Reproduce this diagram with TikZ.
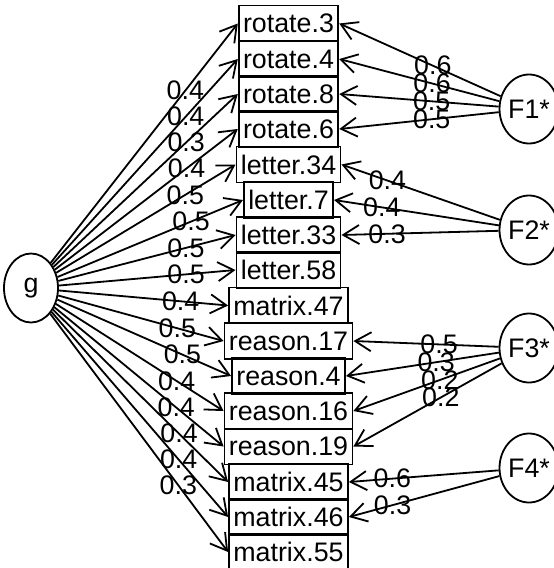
\documentclass[tikz,border=0pt]{standalone}
\usepackage{fontspec}
\setmainfont{Liberation Sans}
\usetikzlibrary{shapes.geometric, arrows.meta}
\tikzset{
  omega/.style = {
    x=0.5pt, y=-0.5pt,
    font=\fontsize{13.4}{16}\selectfont,
    line width=0.9pt,
  },
  obs/.style = {
    rectangle, draw, minimum height=18pt, inner xsep=2.2pt, inner ysep=0pt,
  },
  lat/.style = {
    ellipse, draw, minimum width=27pt, minimum height=34.5pt, inner sep=0pt,
  },
  arr/.style = {-{Straight Barb[length=8pt, width=9.5pt]}},
  lbl/.style = {inner sep=0pt},
}

\begin{document}
\begin{tikzpicture}[omega]
\useasboundingbox (0,0) rectangle (553,568);

% observed variables
\node[obs] (rot3)  at (288.5,23.5)  {rotate.3};
\node[obs] (rot4)  at (288.5,59)    {rotate.4};
\node[obs] (rot8)  at (288.5,94)    {rotate.8};
\node[obs] (rot6)  at (288.5,129)   {rotate.6};
\node[obs] (let34) at (288.5,164.5) {letter.34};
\node[obs] (let7)  at (288.5,200)   {letter.7};
\node[obs] (let33) at (288.5,235)   {letter.33};
\node[obs] (let58) at (288.5,270)   {letter.58};
\node[obs] (mat47) at (288.5,305.5) {matrix.47};
\node[obs] (rea17) at (288.5,341)   {reason.17};
\node[obs] (rea4)  at (288.5,376)   {reason.4};
\node[obs] (rea16) at (288.5,411)   {reason.16};
\node[obs] (rea19) at (288.5,446.5) {reason.19};
\node[obs] (mat45) at (288.5,482)   {matrix.45};
\node[obs] (mat46) at (288.5,517)   {matrix.46};
\node[obs] (mat55) at (288.5,552)   {matrix.55};

% factors
\node[lat] (g)  at (31,288)  {g};
\node[lat] (f1) at (529,109) {F1*};
\node[lat] (f2) at (529,230) {F2*};
\node[lat] (f3) at (529,348) {F3*};
\node[lat] (f4) at (529,468) {F4*};

% general factor loadings
\draw[arr] (g) -- node[lbl, pos=0.72] {0.4} (rot3.west);
\draw[arr] (g) -- node[lbl, pos=0.72] {0.4} (rot4.west);
\draw[arr] (g) -- node[lbl, pos=0.72] {0.3} (rot8.west);
\draw[arr] (g) -- node[lbl, pos=0.72] {0.4} (rot6.west);
\draw[arr] (g) -- node[lbl, pos=0.72] {0.5} (let34.west);
\draw[arr] (g) -- node[lbl, pos=0.72] {0.5} (let7.west);
\draw[arr] (g) -- node[lbl, pos=0.72] {0.5} (let33.west);
\draw[arr] (g) -- node[lbl, pos=0.72] {0.5} (let58.west);
\draw[arr] (g) -- node[lbl, pos=0.72] {0.4} (mat47.west);
\draw[arr] (g) -- node[lbl, pos=0.72] {0.5} (rea17.west);
\draw[arr] (g) -- node[lbl, pos=0.72] {0.5} (rea4.west);
\draw[arr] (g) -- node[lbl, pos=0.72] {0.4} (rea16.west);
\draw[arr] (g) -- node[lbl, pos=0.72] {0.4} (rea19.west);
\draw[arr] (g) -- node[lbl, pos=0.72] {0.4} (mat45.west);
\draw[arr] (g) -- node[lbl, pos=0.72] {0.4} (mat46.west);
\draw[arr] (g) -- node[lbl, pos=0.72] {0.3} (mat55.west);

% group factor loadings
\draw[arr] (f1) -- node[lbl, pos=0.42] {0.6} (rot3.east);
\draw[arr] (f1) -- node[lbl, pos=0.42] {0.6} (rot4.east);
\draw[arr] (f1) -- node[lbl, pos=0.42] {0.5} (rot8.east);
\draw[arr] (f1) -- node[lbl, pos=0.42] {0.5} (rot6.east);
\draw[arr] (f2) -- node[lbl, pos=0.71] {0.4} (let34.east);
\draw[arr] (f2) -- node[lbl, pos=0.71] {0.4} (let7.east);
\draw[arr] (f2) -- node[lbl, pos=0.71] {0.3} (let33.east);
\draw[arr] (f3) -- node[lbl, pos=0.41] {0.5} (rea17.east);
\draw[arr] (f3) -- node[lbl, pos=0.41] {0.3} (rea4.east);
\draw[arr] (f3) -- node[lbl, pos=0.41] {0.2} (rea16.east);
\draw[arr] (f3) -- node[lbl, pos=0.41] {0.2} (rea19.east);
\draw[arr] (f4) -- node[lbl, pos=0.71] {0.6} (mat45.east);
\draw[arr] (f4) -- node[lbl, pos=0.71] {0.3} (mat46.east);

\end{tikzpicture}
\end{document}
